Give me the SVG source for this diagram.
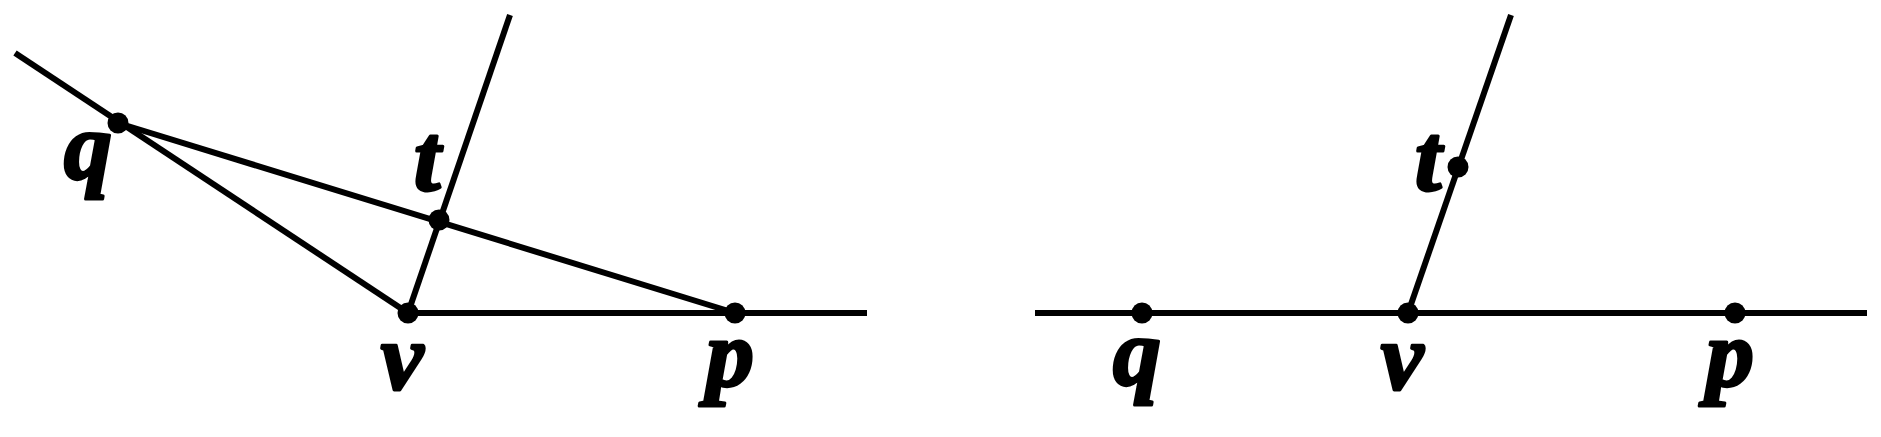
<svg xmlns="http://www.w3.org/2000/svg" width="1881" height="437" viewBox="0 0 1881 437">
<style>
.ln{stroke:#000;stroke-width:6;fill:none;stroke-linecap:butt}
.pt{fill:#000}
.lb{font-family:"Liberation Serif","Times New Roman",serif;font-weight:bold;font-style:italic;font-size:96px;fill:#000;stroke:#000;stroke-width:3;stroke-linejoin:round;text-anchor:middle}
</style>
<rect width="1881" height="437" fill="#fff"/>
<g id="connectors">
<line class="ln" x1="15" y1="53" x2="408" y2="313"/>
<line class="ln" x1="118" y1="123" x2="735" y2="313"/>
<line class="ln" x1="408" y1="313" x2="510" y2="15"/>
<line class="ln" x1="408" y1="313" x2="867" y2="313"/>
<line class="ln" x1="1035" y1="313" x2="1867" y2="313"/>
<line class="ln" x1="1408" y1="313" x2="1511" y2="15"/>
</g>
<g id="left-q"><circle class="pt" cx="118" cy="123" r="10.5"/><text class="lb" x="88" y="179">q</text></g>
<g id="left-t"><circle class="pt" cx="439" cy="220" r="10.5"/><text class="lb" x="427" y="190">t</text></g>
<g id="left-v"><circle class="pt" cx="408" cy="313" r="10.5"/><text class="lb" x="402" y="389">v</text></g>
<g id="left-p"><circle class="pt" cx="735" cy="313" r="10.5"/><text class="lb" x="730" y="386">p</text></g>
<g id="right-q"><circle class="pt" cx="1142" cy="313" r="10.5"/><text class="lb" x="1137" y="385">q</text></g>
<g id="right-t"><circle class="pt" cx="1458" cy="167" r="10.5"/><text class="lb" x="1428" y="190">t</text></g>
<g id="right-v"><circle class="pt" cx="1408" cy="313" r="10.5"/><text class="lb" x="1402" y="389">v</text></g>
<g id="right-p"><circle class="pt" cx="1735" cy="313" r="10.5"/><text class="lb" x="1730" y="386">p</text></g>
</svg>
